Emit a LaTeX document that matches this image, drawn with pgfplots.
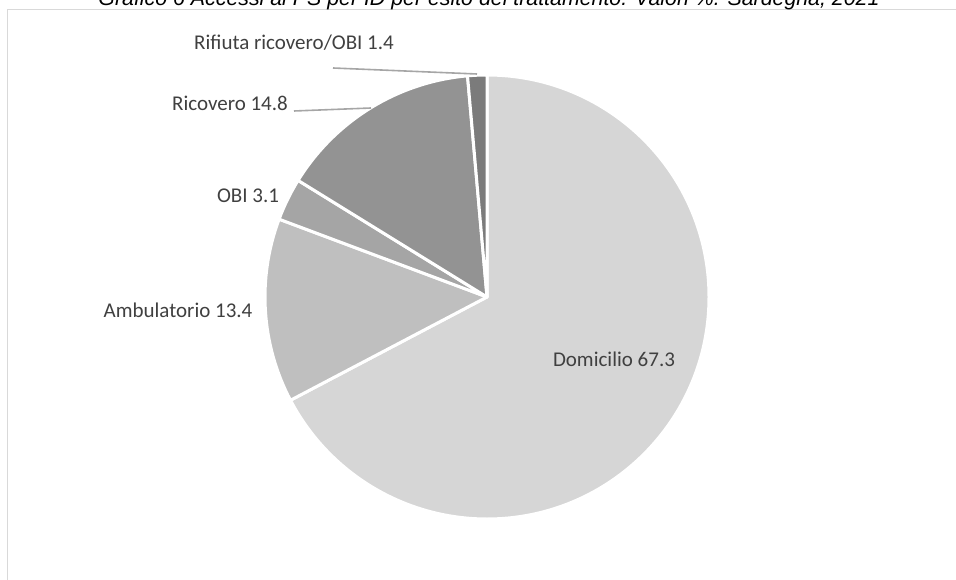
\documentclass[border=0pt]{standalone}
\usepackage{pgfplots}
\usepackage{pgfplotstable}
\pgfplotsset{compat=1.18}
\usepackage{fontspec}
\setmainfont{Carlito}
\newfontfamily\titlefont{Liberation Sans}

\definecolor{slice0}{HTML}{D6D6D6}
\definecolor{slice1}{HTML}{BFBFBF}
\definecolor{slice2}{HTML}{A5A5A5}
\definecolor{slice3}{HTML}{939393}
\definecolor{slice4}{HTML}{7B7B7B}
\definecolor{labeltext}{HTML}{404040}
\definecolor{leader}{HTML}{A6A6A6}
\definecolor{framegray}{HTML}{D9D9D9}

\newcommand\labelfont{\fontsize{15.75}{18}\selectfont}

% esito; percentuale; posizione etichetta (px, y verso il basso)
\pgfplotstableread[col sep=semicolon]{
esito;valore;lx;ly
Domicilio;67.3;614;366
Ambulatorio;13.4;178;317
OBI;3.1;248;203
Ricovero;14.8;230;111
Rifiuta ricovero/OBI;1.4;294;50
}\esiti

\begin{document}
\begin{tikzpicture}
% la pagina e' esattamente l'area 956x579 px (1 px = 0.75 pt)
\useasboundingbox (0pt,0pt) rectangle (717pt,434.25pt);
\begin{axis}[
    hide axis,
    scale only axis,
    width=717pt, height=434.25pt,
    xmin=0, xmax=956, ymin=0, ymax=579,
    clip=false,
]
% cornice dell'area del grafico
\draw[framegray, line width=1.1pt] (axis cs:7.5,-20) |- (axis cs:990,569.5);

\pgfplotstablegetrowsof{\esiti}
\pgfmathtruncatemacro\last{\pgfplotsretval-1}
\def\acc{90}
\pgfplotsforeachungrouped \i in {0,...,\last}{%
  \pgfplotstablegetelem{\i}{valore}\of\esiti \let\val\pgfplotsretval
  \pgfplotstablegetelem{\i}{esito}\of\esiti \let\nome\pgfplotsretval
  \pgfplotstablegetelem{\i}{lx}\of\esiti \let\lx\pgfplotsretval
  \pgfplotstablegetelem{\i}{ly}\of\esiti \let\ly\pgfplotsretval
  \pgfmathsetmacro\fine{\acc-3.6*\val}
  \pgfmathsetmacro\lyup{579-\ly}
  \edef\temp{%
    \noexpand\fill[fill=slice\i, draw=white, line width=2.25pt, line join=round]
      (axis cs:487,282) -- ++(\acc:166.5pt)
      arc[start angle=\acc, end angle=\fine, radius=166.5pt] -- cycle;
    \noexpand\node[anchor=base, text=labeltext, font=\noexpand\labelfont, inner sep=0pt]
      at (axis cs:\lx,\lyup) {\nome\space\val};
  }%
  \temp
  \let\acc\fine
}

% linee guida delle etichette esterne
\draw[leader, line width=1.2pt] (axis cs:333,511) -- (axis cs:477,505);
\draw[leader, line width=1.2pt] (axis cs:294,468) -- (axis cs:371,471);

% titolo, tagliato in alto come nell'originale
\node[anchor=base, inner sep=0pt, font=\titlefont\itshape\fontsize{16}{18}\selectfont]
  at (axis cs:489,573) {Grafico 6 Accessi al PS per ID per esito del trattamento. Valori \%. Sardegna, 2021};
\end{axis}
\end{tikzpicture}
\end{document}
